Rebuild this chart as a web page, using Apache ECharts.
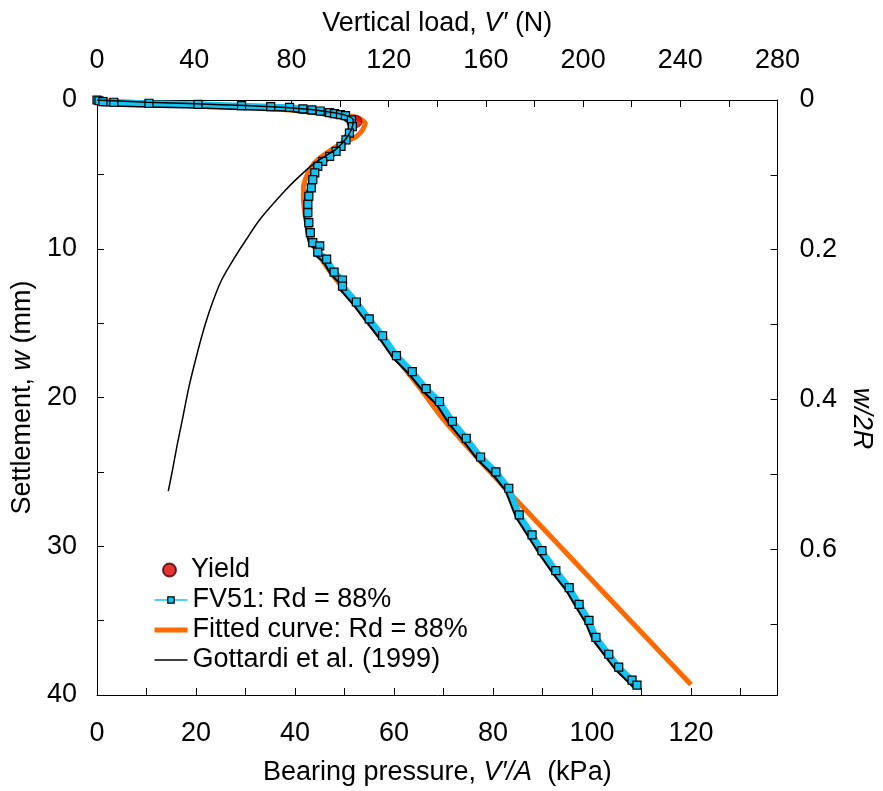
<!DOCTYPE html>
<html><head><meta charset="utf-8">
<script src="https://cdn.jsdelivr.net/npm/echarts@6/dist/echarts.min.js"></script>
<style>html,body{margin:0;padding:0;background:#fff}#c{width:883px;height:791px}</style>
</head><body><div id="c"></div>
<script>
// tick labels
const pressureLabels = [0, 20, 40, 60, 80, 100, 120];
const loadLabels = [0, 40, 80, 120, 160, 200, 240, 280];
const settlementLabels = [0, 10, 20, 30, 40];
const ratioLabels = [0, 0.2, 0.4, 0.6];
// series: [bearing pressure kPa, settlement mm]
const yieldPoint = [[52.3, 1.45]];
const fv51 = [[0,0],[0.4,0.05],[1.2,0.11],[3.4,0.15],[10.5,0.22],[20.4,0.29],[29.2,0.38],[35.1,0.45],[38.9,0.49],[41.6,0.60],[43.4,0.67],[45.1,0.74],[47.0,0.85],[48.0,0.92],[49.2,0.98],[50.2,1.05],[51.4,1.34],[51.6,1.79],[51.0,2.23],[50.3,2.68],[49.3,3.12],[48.3,3.46],[47.0,3.79],[45.6,4.13],[44.6,4.46],[44.0,4.90],[43.6,5.35],[43.3,5.91],[42.8,6.47],[42.6,7.02],[42.6,7.58],[42.8,8.25],[43.1,8.92],[43.6,9.59],[45.0,9.81],[44.6,10.23],[46.4,10.7],[47.9,11.57],[49.6,12.1],[49.6,12.51],[52.4,13.58],[55.0,14.72],[57.7,15.85],[60.5,17.19],[63.7,18.26],[66.5,19.40],[69.2,20.27],[71.8,21.61],[74.6,22.74],[77.5,24.0],[80.6,25.0],[83.2,26.1],[85.3,27.89],[87.9,29.23],[89.9,30.30],[92.7,31.64],[95.4,32.78],[97.4,33.91],[99.4,34.98],[100.8,36.12],[103.4,37.26],[105.4,38.13],[108.1,39.00],[109.1,39.33]];
const fitted = [[0,0],[3,0.08],[10,0.2],[20,0.33],[30,0.47],[37,0.62],[44,0.82],[49,1.0],[52.4,1.15],[54.2,1.57],[53.6,2.04],[52.4,2.45],[50.4,2.79],[48.4,3.12],[46.4,3.57],[44.6,4.01],[43.2,4.57],[42.2,5.24],[41.7,5.91],[41.7,6.69],[41.9,7.36],[42.2,8.03],[42.7,8.70],[43.5,9.6],[44.8,10.4],[46.8,11.4],[50.3,12.9],[57.1,15.9],[65.8,19.6],[69.8,21.4],[83.9,26.6],[120,39.3]];
const gottardi = [[0,0],[10,0.15],[20,0.26],[30,0.37],[40,0.55],[46,0.75],[50,1.0],[51.8,1.35],[51.5,1.9],[50.3,2.6],[48.3,3.3],[46.2,3.75],[44,4.23],[41,5.1],[38.2,6.02],[32.9,8.03],[30.2,9.36],[27.6,10.70],[25.1,12.15],[23.1,13.83],[21.4,15.61],[19.8,17.61],[18.5,19.40],[17.3,21.40],[16.2,23.19],[15.2,24.97],[14.4,26.30]];

const FONT = "'Liberation Sans', Arial, sans-serif";
const FS = 27;
const near = (v, list) => list.some(t => Math.abs(t - v) < 1e-6);
const txt = {fontFamily: FONT, fontSize: FS, color: '#000'};
const CYAN = '#14C3F2', ORANGE = '#FF6A00';

const chart = echarts.init(document.getElementById('c'), null, {renderer: 'canvas'});
const axisCommon = {
  axisLine: {show: true, onZero: false, lineStyle: {color: '#000', width: 1}},
  axisTick: {show: true, inside: true, length: 7, lineStyle: {color: '#000', width: 1}},
  splitLine: {show: false}
};
const rich = {a: Object.assign({}, txt), b: Object.assign({}, txt, {fontStyle: 'italic'})};
chart.setOption({
  animation: false,
  backgroundColor: '#fff',
  grid: {left: 97, right: 104, top: 100, bottom: 93, containLabel: false},
  xAxis: [
    Object.assign({}, axisCommon, {
      type: 'value', position: 'bottom', min: 0, max: 137.5, interval: 10,
      axisLabel: Object.assign({}, txt, {margin: 25, formatter: v => near(v, pressureLabels) ? String(v) : ''}),
      name: '{a|Bearing pressure, }{b|V′/A}{a|  (kPa)}', nameLocation: 'middle', nameGap: 64,
      nameTextStyle: Object.assign({}, txt, {rich})
    }),
    Object.assign({}, axisCommon, {
      type: 'value', position: 'top', min: 0, max: 280, interval: 20,
      axisLabel: Object.assign({}, txt, {margin: 26, formatter: v => near(v, loadLabels) ? String(v) : ''}),
      name: '{a|Vertical load, }{b|V′}{a| (N)}', nameLocation: 'middle', nameGap: 63,
      nameTextStyle: Object.assign({}, txt, {rich})
    })
  ],
  yAxis: [
    Object.assign({}, axisCommon, {
      type: 'value', position: 'left', inverse: true, min: 0, max: 40, interval: 5,
      axisLabel: Object.assign({}, txt, {margin: 20, formatter: v => near(v, settlementLabels) ? String(v) : ''}),
      name: '{a|Settlement, }{b|w}{a| (mm)}', nameLocation: 'middle', nameGap: 51,
      nameTextStyle: Object.assign({}, txt, {rich})
    }),
    Object.assign({}, axisCommon, {
      type: 'value', position: 'right', inverse: true, min: 0, max: 0.795, interval: 0.1,
      axisLabel: Object.assign({}, txt, {margin: 22, formatter: v => near(v, ratioLabels) ? String(Math.round(v * 10) / 10) : ''}),
      name: 'w/2R', nameLocation: 'middle', nameGap: 67, nameRotate: -90,
      nameTextStyle: Object.assign({}, txt, {fontStyle: 'italic', padding: [0, 0, 0, 42]})
    })
  ],
  legend: [
    {
      orient: 'vertical', left: 162, top: 555, padding: 0, itemGap: 0, itemWidth: 33, itemHeight: 13,
      textStyle: Object.assign({}, txt, {lineHeight: 30}),
      data: [{name: 'Yield'}]
    },
    {
      orient: 'vertical', left: 152, top: 585, padding: 0, itemGap: 0, itemWidth: 33, itemHeight: 8,
      textStyle: Object.assign({}, txt, {lineHeight: 30}),
      data: [
        {name: 'FV51: Rd = 88%', lineStyle: {width: 1.5, shadowColor: 'rgba(0,0,0,0)'}, itemStyle: {borderWidth: 1.2}},
        {name: 'Fitted curve: Rd = 88%', lineStyle: {width: 5}, itemStyle: {opacity: 0}},
        {name: 'Gottardi et al. (1999)', lineStyle: {width: 1.5}, itemStyle: {opacity: 0}}
      ]
    }
  ],
  series: [
    {name: 'Fitted curve: Rd = 88%', type: 'line', data: fitted, xAxisIndex: 0, yAxisIndex: 0,
     symbol: 'none', smooth: 0.2, lineStyle: {color: ORANGE, width: 5}, itemStyle: {color: ORANGE}, z: 2},
    {name: 'Yield', type: 'scatter', data: yieldPoint, xAxisIndex: 0, yAxisIndex: 0,
     symbol: 'circle', symbolSize: 12, itemStyle: {color: '#E00000', borderColor: '#400', borderWidth: 1}, z: 3},
    {name: 'FV51: Rd = 88%', type: 'line', data: fv51, xAxisIndex: 0, yAxisIndex: 0,
     symbol: 'rect', symbolSize: 8, showSymbol: true,
     lineStyle: {color: CYAN, width: 6, shadowColor: '#000', shadowBlur: 0, shadowOffsetX: -1.5, shadowOffsetY: 1.5},
     itemStyle: {color: CYAN, borderColor: '#000', borderWidth: 1.2}, z: 4},
    {name: 'Gottardi et al. (1999)', type: 'line', data: gottardi, xAxisIndex: 0, yAxisIndex: 0,
     symbol: 'none', smooth: 0.3, lineStyle: {color: '#000', width: 1.5}, itemStyle: {color: '#000'}, z: 5}
  ]
});
</script></body></html>
